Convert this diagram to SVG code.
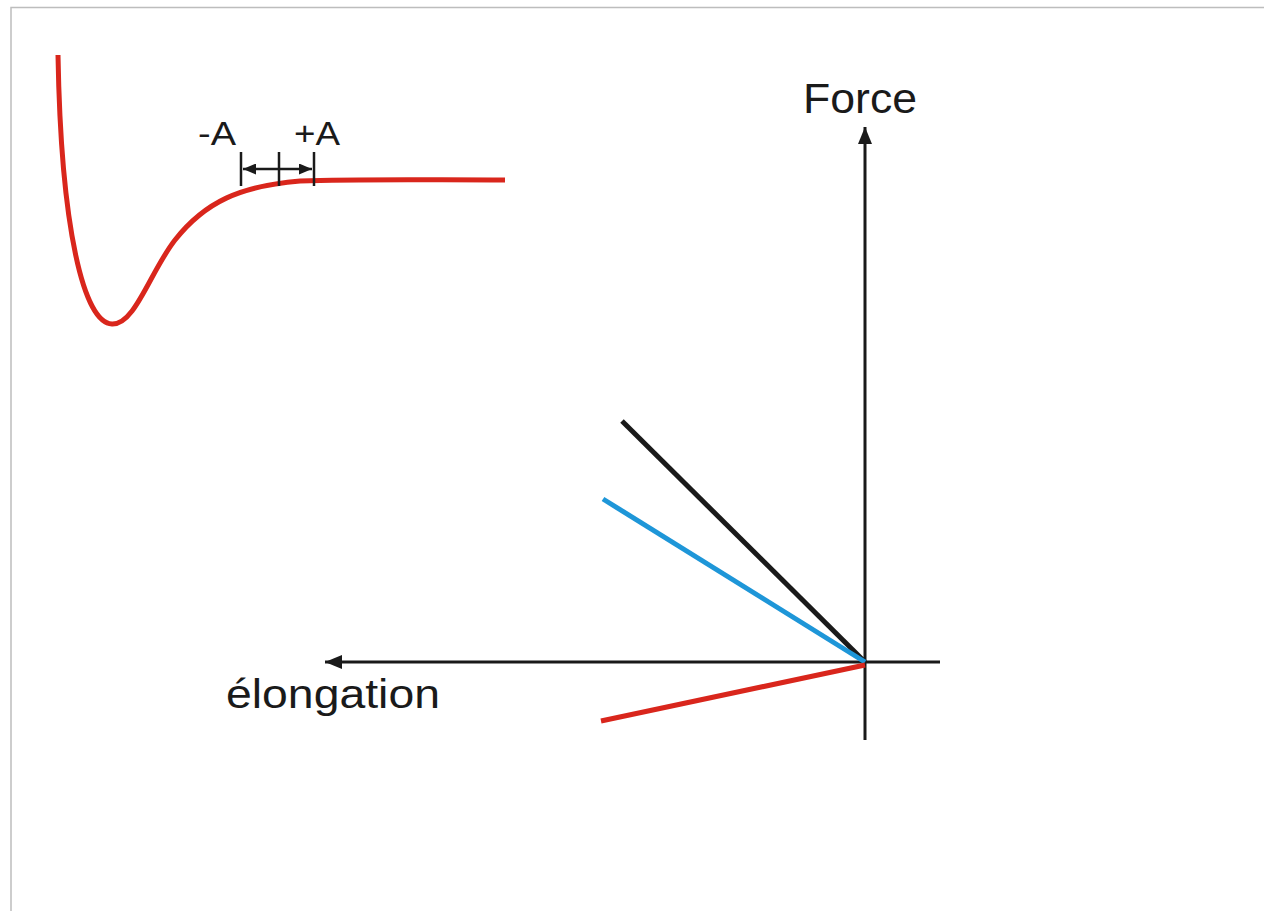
<svg xmlns="http://www.w3.org/2000/svg" width="1264" height="911" viewBox="0 0 1264 911">
<style>
.axis{stroke:#1a1a1a;stroke-width:3;fill:none}
.thin{stroke:#1a1a1a;stroke-width:2.5;fill:none}
.lbl{font-family:"Liberation Sans",Arial,sans-serif;fill:#1a1a1a}
.red{stroke:#d9261c;stroke-width:5;fill:none;stroke-linecap:butt}
</style>
<defs>
<marker id="ah" viewBox="0 0 17 14" refX="17" refY="7" markerWidth="17" markerHeight="14" markerUnits="userSpaceOnUse" orient="auto">
<path d="M0,0 L17,7 L0,14 Z" fill="#1a1a1a"/>
</marker>
<marker id="ahs" viewBox="0 0 13 11" refX="13" refY="5.5" markerWidth="13" markerHeight="11" markerUnits="userSpaceOnUse" orient="auto">
<path d="M0,0 L13,5.5 L0,11 Z" fill="#1a1a1a"/>
</marker>
</defs>
<rect width="1264" height="911" fill="#ffffff"/>
<path d="M11,911 V7.5 H1264" stroke="#bdbdbd" stroke-width="1.5" fill="none"/>
<g id="potential-curve">
<path class="red" d="M58,55 C61,230 84,323 112,324 C135,325 150,272 175,240 C205,202 240,186 300,181 C360,179 420,180 505,180"/>
</g>
<g id="amplitude">
<line class="thin" x1="241" y1="152" x2="241" y2="186"/>
<line class="thin" x1="279" y1="152" x2="279" y2="186"/>
<line class="thin" x1="314" y1="152" x2="314" y2="186"/>
<line class="thin" x1="279" y1="169" x2="243" y2="169" marker-end="url(#ahs)"/>
<line class="thin" x1="279" y1="169" x2="312" y2="169" marker-end="url(#ahs)"/>
<text class="lbl" x="198" y="145" font-size="33" textLength="38" lengthAdjust="spacingAndGlyphs">-A</text>
<text class="lbl" x="294" y="145" font-size="33" textLength="46" lengthAdjust="spacingAndGlyphs">+A</text>
</g>
<g id="connectors">
<line class="axis" x1="865" y1="740" x2="865" y2="127" marker-end="url(#ah)"/>
<line class="axis" x1="940" y1="662" x2="325" y2="662" marker-end="url(#ah)"/>
<line x1="622" y1="421" x2="865" y2="662" stroke="#1a1a1a" stroke-width="5"/>
<line x1="603" y1="499" x2="865" y2="662" stroke="#1e96d8" stroke-width="5"/>
<line x1="601" y1="721" x2="865" y2="665" stroke="#d9261c" stroke-width="5"/>
</g>
<g id="force-label">
<text class="lbl" x="803" y="113" font-size="43" textLength="114" lengthAdjust="spacingAndGlyphs">Force</text>
</g>
<g id="elongation-label">
<text class="lbl" x="226" y="708" font-size="41" textLength="214" lengthAdjust="spacingAndGlyphs">élongation</text>
</g>
</svg>
